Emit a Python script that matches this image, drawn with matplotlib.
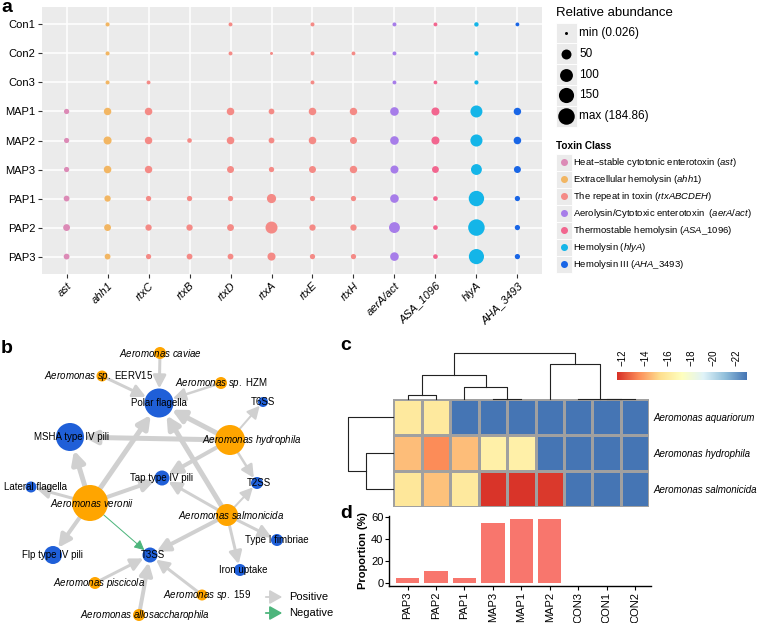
import numpy as np
import matplotlib
matplotlib.use("Agg")
import matplotlib.pyplot as plt
from matplotlib.patches import Rectangle, Circle, FancyArrowPatch
from matplotlib.colors import Normalize, LinearSegmentedColormap

plt.rcParams['font.family'] = ['Liberation Sans', 'DejaVu Sans']
plt.rcParams['mathtext.fontset'] = 'custom'
plt.rcParams['mathtext.rm'] = 'Liberation Sans'
plt.rcParams['mathtext.it'] = 'Liberation Sans:italic'
plt.rcParams['mathtext.bf'] = 'Liberation Sans:bold'

W, H = 760, 623

# ================= data =================
# --- panel a: toxin gene abundance
samples = ["Con1", "Con2", "Con3", "MAP1", "MAP2", "MAP3", "PAP1", "PAP2", "PAP3"]
genes = ["ast", "ahh1", "rtxC", "rtxB", "rtxD", "rtxA", "rtxE", "rtxH",
         "aerA/act", "ASA_1096", "hlyA", "AHA_3493"]
gene_class = [0, 1, 2, 2, 2, 2, 2, 2, 3, 4, 5, 6]
toxin_classes = [
    r"Heat$-$stable cytotonic enterotoxin ($\mathit{ast}$)",
    r"Extracellular hemolysin ($\mathit{ahh1}$)",
    r"The repeat in toxin ($\mathit{rtxABCDEH}$)",
    r"Aerolysin/Cytotoxic enterotoxin  ($\mathit{aerA/act}$)",
    r"Thermostable hemolysin ($\mathit{ASA\_1096}$)",
    r"Hemolysin ($\mathit{hlyA}$)",
    r"Hemolysin III ($\mathit{AHA\_3493}$)",
]
class_colors = ["#DC8AB6", "#F2B663", "#F48A86", "#A77DE9", "#F2668F", "#14B5E8", "#1966E6"]
nan = np.nan
abundance = np.array([
    [nan, 1.6, nan, nan, 1.2, nan, 1.4, nan, 1.3, 1.1, 2.5, 1.0],
    [nan, 1.5, nan, nan, 1.2, 0.026, 1.3, 1.0, 1.2, nan, 2.0, nan],
    [nan, 1.4, 1.1, nan, nan, nan, 1.2, nan, 1.1, 0.9, 1.8, nan],
    [5.8, 21, 22, nan, 22, 8.5, 22, 21, 33, 27, 83, 21],
    [5.5, 27, 21, 3.2, 22, 8.8, 22, 17, 33, 27, 85, 22],
    [5.6, 22, 21, nan, 17, 6.0, 17, 21, 27, 16, 64, 17],
    [8.8, 12, 6, 6, 6, 40, 6, 6, 33, 3.4, 156, 5.8],
    [16, 16, 12, 12, 16, 83, 12, 12, 64, 3.4, 184.86, 5.8],
    [8.8, 8.8, 5.8, 8.8, 8.8, 27, 5.8, 5.8, 33, 3.4, 150, 5.8],
])
size_breaks = [50, 100, 150]

# --- panel b: network
node_labels = {
    "caviae": r"$\mathit{Aeromonas\ caviae}$",
    "eerv15": r"$\mathit{Aeromonas\ sp.}$ EERV15",
    "hzm": r"$\mathit{Aeromonas\ sp.}$ HZM",
    "polar": "Polar flagella",
    "t6ss": "T6SS",
    "msha": "MSHA type IV pili",
    "hydrophila": r"$\mathit{Aeromonas\ hydrophila}$",
    "tap": "Tap type IV pili",
    "t2ss": "T2SS",
    "lateral": "Lateral flagella",
    "veronii": r"$\mathit{Aeromonas\ veronii}$",
    "salmonicida": r"$\mathit{Aeromonas\ salmonicida}$",
    "fimbriae": "Type I fimbriae",
    "flp": "Flp type IV pili",
    "t3ss": "T3SS",
    "iron": "Iron uptake",
    "piscicola": r"$\mathit{Aeromonas\ piscicola}$",
    "sp159": r"$\mathit{Aeromonas\ sp.}$ 159",
    "allo": r"$\mathit{Aeromonas\ allosaccharophila}$",
}
species_nodes = ["caviae", "eerv15", "hzm", "hydrophila", "veronii", "salmonicida",
                 "piscicola", "sp159", "allo"]
# (source, target, weight, sign)
edges = [
    ("caviae", "polar", 3, 1), ("eerv15", "polar", 3, 1), ("hzm", "polar", 2.5, 1),
    ("hydrophila", "polar", 5, 1), ("hydrophila", "t6ss", 2, 1),
    ("hydrophila", "msha", 5, 1), ("hydrophila", "tap", 4, 1),
    ("hydrophila", "t2ss", 2.5, 1),
    ("veronii", "polar", 5, 1), ("veronii", "msha", 5, 1), ("veronii", "lateral", 3, 1),
    ("veronii", "tap", 4, 1), ("veronii", "flp", 4, 1), ("veronii", "t3ss", 1, -1),
    ("salmonicida", "polar", 5, 1), ("salmonicida", "tap", 3, 1),
    ("salmonicida", "t2ss", 2, 1), ("salmonicida", "fimbriae", 3, 1),
    ("salmonicida", "t3ss", 4, 1), ("salmonicida", "iron", 3, 1),
    ("piscicola", "t3ss", 3, 1), ("sp159", "t3ss", 3, 1), ("allo", "t3ss", 4, 1),
]
# layout: node -> (x, y, radius, label x)
layout = {
    "caviae": (160, 353, 6, 160), "eerv15": (102, 376, 5.5, 99),
    "hzm": (221, 383, 6, 221), "polar": (159, 403, 14.5, 159),
    "t6ss": (263, 402, 5, 263), "msha": (70, 437, 14, 72),
    "hydrophila": (230, 440, 15, 252), "tap": (162, 478, 7.5, 161),
    "t2ss": (257, 483, 6, 259), "lateral": (31, 487, 5.5, 35),
    "veronii": (90, 503, 18, 92), "salmonicida": (227, 515, 11, 231),
    "fimbriae": (277, 540, 6, 277), "flp": (53, 555, 9, 52),
    "t3ss": (150, 555, 7.5, 153), "iron": (240, 570, 6, 243),
    "piscicola": (95, 583, 6, 99), "sp159": (202, 595, 5.5, 207),
    "allo": (139, 615, 6, 145),
}

# --- panel c: heatmap of log proportions
heat_cols = ["PAP3", "PAP2", "PAP1", "MAP3", "MAP1", "MAP2", "CON3", "CON1", "CON2"]
heat_rows = ["Aeromonas aquariorum", "Aeromonas hydrophila", "Aeromonas salmonicida"]
log_prop = np.array([
    [-15.9, -15.9, -22.9, -22.9, -22.9, -22.9, -22.9, -22.9, -22.9],
    [-14.5, -13.4, -14.5, -16.3, -16.3, -22.9, -22.9, -22.9, -22.9],
    [-15.7, -14.6, -15.9, -11.6, -11.6, -11.7, -22.9, -22.9, -22.9],
])
col_merges = [(3, 4, 0.0), (0, 1, 0.35), (2, 9, 1.08), (10, 11, 2.1),
              (7, 8, 0.0), (6, 13, 0.0), (5, 14, 3.05), (12, 15, 4.0)]
row_merges = [(1, 2, 2.42), (0, 3, 3.95)]

# --- panel d: proportion bars
proportion = [4.0, 10.6, 4.0, 54.5, 58.5, 58.2, 0.2, 0.2, 0.2]

# ================= drawing =================
fig = plt.figure(figsize=(W / 100, H / 100), dpi=100)


def px_axes(x0, y0, x1, y1):
    return fig.add_axes([x0 / W, 1 - y1 / H, (x1 - x0) / W, (y1 - y0) / H])


def dot_diam(v, vmin, vmax):
    return 3 + 13.5 * (np.sqrt(v) - np.sqrt(vmin)) / (np.sqrt(vmax) - np.sqrt(vmin))


# ---- panel a
vmin, vmax = np.nanmin(abundance), np.nanmax(abundance)
ax = px_axes(42, 7, 542, 274)
ax.set_facecolor("#EBEBEB")
xx, yy = np.meshgrid(np.arange(len(genes)), np.arange(len(samples)))
mask = ~np.isnan(abundance)
cols = np.array([class_colors[c] for c in gene_class])[xx]
ax.scatter(xx[mask], yy[mask], s=(dot_diam(abundance[mask], vmin, vmax) * 0.72) ** 2,
           c=cols[mask], linewidths=0, zorder=3)
ax.set_xlim(-0.6, len(genes) - 0.4)
ax.set_ylim(len(samples) - 0.4, -0.6)
ax.set_xticks(range(len(genes)))
ax.set_xticklabels(genes, rotation=45, ha="right", rotation_mode="anchor",
                   fontstyle="italic", fontsize=8)
ax.set_yticks(range(len(samples)))
ax.set_yticklabels(samples, fontsize=8)
ax.grid(color="white", lw=1.1)
ax.set_axisbelow(True)
for s in ax.spines.values():
    s.set_visible(False)
ax.tick_params(length=2.75, width=0.8, color="#333333", pad=2)

# legends of panel a
axl = px_axes(545, 0, 760, 280)
axl.set_xlim(545, 760)
axl.set_ylim(280, 0)
axl.axis("off")
axl.text(556, 13, "Relative abundance", fontsize=9.5, va="center")
leg_vals = [vmin] + size_breaks + [vmax]
leg_txt = [f"min ({vmin:g})"] + [str(b) for b in size_breaks] + [f"max ({vmax:g})"]
for i, (v, t) in enumerate(zip(leg_vals, leg_txt)):
    y = 33 + i * 20.8
    axl.add_patch(Rectangle((556, y - 10.4), 20.5, 20.8, fc="#EBEBEB", ec="white", lw=0.6))
    axl.scatter([566.3], [y], s=(dot_diam(v, vmin, vmax) * 0.72) ** 2, c="black", lw=0, zorder=3)
    axl.text(579, y, t, fontsize=8.5, va="center")
axl.text(556, 146, "Toxin Class", fontsize=7.2, fontweight="bold", va="center")
for i, (lab, c) in enumerate(zip(toxin_classes, class_colors)):
    y = 162.3 + i * 17
    axl.add_patch(Rectangle((556, y - 8.5), 15.5, 17, fc="#EBEBEB", ec="white", lw=0.6))
    axl.scatter([563.7], [y], s=(7 * 0.72) ** 2, c=c, lw=0, zorder=3)
    axl.text(573, y, lab, fontsize=6.8, va="center")

# ---- panel b: network
axb = px_axes(0, 330, 330, 623)
axb.set_xlim(0, 330)
axb.set_ylim(623, 330)
axb.axis("off")
for src, tgt, w, sign in edges:
    xa, ya, ra, _ = layout[src]
    xb, yb, rb, _ = layout[tgt]
    color = "#D0D0D0" if sign > 0 else "#4DB57C"
    hl, hw = (0.75, 0.38) if sign > 0 else (0.6, 0.3)
    arr = FancyArrowPatch((xa, ya), (xb, yb),
                          arrowstyle=f"-|>,head_length={hl},head_width={hw}",
                          mutation_scale=10, lw=w * 0.72, color=color,
                          shrinkA=ra * 0.72, shrinkB=rb * 0.72, zorder=1)
    axb.add_patch(arr)
for name, lab in node_labels.items():
    x, y, r, lx = layout[name]
    fc = "#FFA500" if name in species_nodes else "#1F5FD8"
    axb.add_patch(Circle((x, y), r, fc=fc, ec="none", zorder=2))
    axb.text(lx, y, lab, fontsize=7, ha="center", va="center", zorder=3)
for y, c, lab in [(597, "#D0D0D0", "Positive"), (613, "#4DB57C", "Negative")]:
    axb.add_patch(FancyArrowPatch((263, y), (285, y),
                                  arrowstyle="-|>,head_length=0.75,head_width=0.42",
                                  mutation_scale=10, lw=1.3, color=c))
    axb.text(289, y, lab, fontsize=8, va="center")

# ---- panel c: heatmap
norm = Normalize(vmin=-22.9, vmax=-11.5)
cmap = LinearSegmentedColormap.from_list(
    "rdylbu7", ["#4575B4", "#91BFDB", "#E0F3F8", "#FFFFBF", "#FEE090", "#FC8D59", "#D73027"])
axh = px_axes(393.3, 399, 649.3, 507)
axh.pcolormesh(log_prop, cmap=cmap, norm=norm, edgecolors="#A0A0A0", linewidth=0.8)
axh.set_ylim(len(heat_rows), 0)
axh.set_xticks([])
axh.yaxis.tick_right()
axh.set_yticks(np.arange(len(heat_rows)) + 0.5)
axh.set_yticklabels(heat_rows, fontstyle="italic", fontsize=7)
axh.tick_params(length=0, pad=3)
for s in axh.spines.values():
    s.set_visible(False)


def draw_dendro(axd, merges, n, vertical):
    pos = {i: i + 0.5 for i in range(n)}
    hgt = {i: 0.0 for i in range(n)}
    for k, (a, b, h) in enumerate(merges):
        xs = [pos[a], pos[a], pos[b], pos[b]]
        ys = [hgt[a], h, h, hgt[b]]
        if vertical:
            axd.plot(xs, ys, color="#222222", lw=0.8, clip_on=False)
        else:
            axd.plot(ys, xs, color="#222222", lw=0.8, clip_on=False)
        pos[n + k] = (pos[a] + pos[b]) / 2
        hgt[n + k] = h


axcd = px_axes(393.3, 353.4, 649.3, 399)
axcd.set_xlim(0, len(heat_cols))
axcd.set_ylim(0, 4.0)
axcd.axis("off")
draw_dendro(axcd, col_merges, len(heat_cols), True)

axrd = px_axes(348.3, 399, 393.3, 507)
axrd.set_xlim(3.95, 0)
axrd.set_ylim(len(heat_rows), 0)
axrd.axis("off")
draw_dendro(axrd, row_merges, len(heat_rows), False)

cax = px_axes(617, 372, 747, 380)
grad = np.linspace(norm.vmax, norm.vmin, 256)
cax.imshow(grad[None, :], aspect="auto", cmap=cmap, norm=norm,
           extent=[norm.vmax, norm.vmin, 0, 1])
cax.set_xlim(norm.vmax, norm.vmin)
cax.set_yticks([])
cax.xaxis.set_ticks_position("top")
cax.set_xticks([-12, -14, -16, -18, -20, -22])
cax.set_xticklabels(["\u221212", "\u221214", "\u221216", "\u221218", "\u221220", "\u221222"],
                    rotation=90, fontsize=7)
cax.tick_params(length=0, pad=4)
for s in cax.spines.values():
    s.set_visible(False)

# ---- panel d: bars
axd = px_axes(389.3, 515.6, 651, 586)
axd.bar(np.arange(len(heat_cols)), proportion, width=0.82, color="#F8766D")
axd.set_xlim(-0.64, len(heat_cols) - 0.44)
axd.set_ylim(-2.93, 61.4)
axd.set_xticks(np.arange(len(heat_cols)))
axd.set_xticklabels(heat_cols, rotation=90, fontsize=8)
axd.set_yticks([0, 20, 40, 60])
axd.tick_params(axis="y", labelsize=8)
axd.tick_params(length=2.75, width=0.8, pad=1.5)
axd.set_ylabel("Proportion (%)", fontsize=8, fontweight="bold", labelpad=2)
for side in ["top", "right"]:
    axd.spines[side].set_visible(False)
for side in ["left", "bottom"]:
    axd.spines[side].set_linewidth(1.0)

# ---- panel letters
for lab, x, y in [("a", 1, 12), ("b", 1, 353), ("c", 340, 350), ("d", 340, 518)]:
    fig.text(x / W, 1 - y / H, lab, fontsize=14, fontweight="bold", va="baseline")

fig.savefig("out.png", dpi=100)
